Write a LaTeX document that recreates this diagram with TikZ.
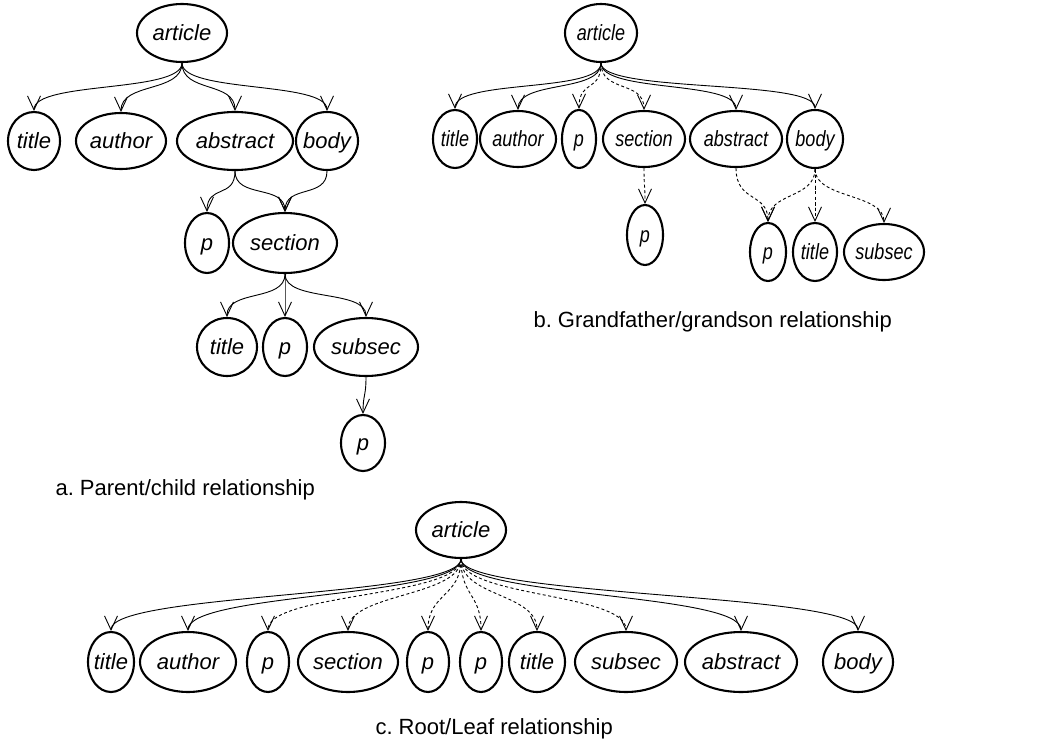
\documentclass[tikz,border=0pt]{standalone}
\usepackage{fontspec}
\usepackage{graphicx}
\setmainfont{Liberation Sans}
\frenchspacing
\usetikzlibrary{shapes.geometric,arrows.meta}
\newcommand\lbl[1]{\makebox[0pt]{#1}}
\newcommand\lblb[1]{\makebox[0pt]{\scalebox{0.82}[1]{#1}}}
\begin{document}
\begin{tikzpicture}[x=1pt,y=-1pt,
  nd/.style={ellipse,draw,line width=2.1pt,inner sep=0pt,text height=16pt,text depth=2pt,
    font=\itshape\fontsize{22}{22}\selectfont},
  sz/.style 2 args={minimum width=#1pt,minimum height=#2pt},
  edge/.style={line width=0.9pt,-{Straight Barb[length=14pt,width=13pt]}},
  dedge/.style={edge,dash pattern=on 3pt off 2.5pt},
  captxt/.style={anchor=base west,font=\fontsize{22}{24}\selectfont}]
\useasboundingbox (0,0) rectangle (1054,747);
% ---------- tree a ----------
\node[nd,sz={90}{58}] (a0) at (182,33) {\lbl{article}};
\node[nd,sz={52}{58}] (a1) at (34,141) {\lbl{title}};
\node[nd,sz={90}{56}] (a2) at (121,141) {\lbl{author}};
\node[nd,sz={116}{58}] (a3) at (235,141) {\lbl{abstract}};
\node[nd,sz={62}{58}] (a4) at (327,141) {\lbl{body}};
\node[nd,sz={44}{60}] (a5) at (207,243) {\lbl{p}};
\node[nd,sz={104}{60}] (a6) at (285,243) {\lbl{section}};
\node[nd,sz={60}{58}] (a7) at (227,347) {\lbl{title}};
\node[nd,sz={44}{58}] (a8) at (285,347) {\lbl{p}};
\node[nd,sz={104}{58}] (a9) at (366,347) {\lbl{subsec}};
\node[nd,sz={44}{56}] (a10) at (363,443) {\lbl{p}};
\foreach \c in {a1,a2,a3,a4}
  \draw[edge] (a0.south) .. controls +(0,30) and +(0,-30) .. (\c.north);
\draw[edge] (a3.south) .. controls +(0,28) and +(0,-28) .. (a5.north);
\draw[edge] (a3.south) .. controls +(0,28) and +(0,-28) .. (a6.north);
\draw[edge] (a4.south) .. controls +(0,28) and +(0,-28) .. (a6.north);
\foreach \c in {a7,a8,a9}
  \draw[edge] (a6.south) .. controls +(0,28) and +(0,-28) .. (\c.north);
\draw[edge] (a9.south) .. controls +(0,20) and +(0,-20) .. (a10.north);
\node[captxt] (capa) at (52,495) {a. Parent/child relationship};
% ---------- tree b ----------
\node[nd,sz={72}{58}] (b0) at (601,33) {\lblb{article}};
\node[nd,sz={44}{58}] (b1) at (455,139) {\lblb{title}};
\node[nd,sz={76}{56}] (b2) at (518,139) {\lblb{author}};
\node[nd,sz={34}{58}] (b3) at (579,139) {\lblb{p}};
\node[nd,sz={82}{56}] (b4) at (644,139) {\lblb{section}};
\node[nd,sz={92}{56}] (b5) at (736,139) {\lblb{abstract}};
\node[nd,sz={56}{58}] (b6) at (815,139) {\lblb{body}};
\node[nd,sz={36}{60}] (b7) at (645,235) {\lblb{p}};
\node[nd,sz={36}{58}] (b8) at (768,252) {\lblb{p}};
\node[nd,sz={44}{58}] (b9) at (815,252) {\lblb{title}};
\node[nd,sz={80}{56}] (b10) at (884,252) {\lblb{subsec}};
\foreach \c in {b1,b2,b5,b6}
  \draw[edge] (b0.south) .. controls +(0,30) and +(0,-30) .. (\c.north);
\foreach \c in {b3,b4}
  \draw[dedge] (b0.south) .. controls +(0,30) and +(0,-30) .. (\c.north);
\draw[dedge] (b4.south) .. controls +(0,20) and +(0,-20) .. (b7.north);
\draw[dedge] (b5.south) .. controls +(0,35) and +(0,-30) .. (b8.north);
\foreach \c in {b8,b9,b10}
  \draw[dedge] (b6.south) .. controls +(0,30) and +(0,-30) .. (\c.north);
\node[captxt] (capb) at (530,327) {b. Grandfather/grandson relationship};
% ---------- tree c ----------
\node[nd,sz={90}{56}] (c0) at (461,530) {\lbl{article}};
\node[nd,sz={46}{60}] (c1) at (111,662) {\lbl{title}};
\node[nd,sz={96}{60}] (c2) at (188,662) {\lbl{author}};
\node[nd,sz={42}{60}] (c3) at (268,662) {\lbl{p}};
\node[nd,sz={100}{60}] (c4) at (348,662) {\lbl{section}};
\node[nd,sz={42}{60}] (c5) at (428,662) {\lbl{p}};
\node[nd,sz={42}{60}] (c6) at (481,662) {\lbl{p}};
\node[nd,sz={56}{60}] (c7) at (537,662) {\lbl{title}};
\node[nd,sz={102}{60}] (c8) at (626,662) {\lbl{subsec}};
\node[nd,sz={112}{60}] (c9) at (741,662) {\lbl{abstract}};
\node[nd,sz={70}{60}] (c10) at (858,662) {\lbl{body}};
\foreach \c in {c1,c2,c9,c10}
  \draw[edge] (c0.south) .. controls +(0,38) and +(0,-38) .. (\c.north);
\foreach \c in {c3,c4,c5,c6,c7,c8}
  \draw[dedge] (c0.south) .. controls +(0,38) and +(0,-38) .. (\c.north);
\node[captxt] (capc) at (372,734) {c. Root/Leaf relationship};
\end{tikzpicture}
\end{document}
